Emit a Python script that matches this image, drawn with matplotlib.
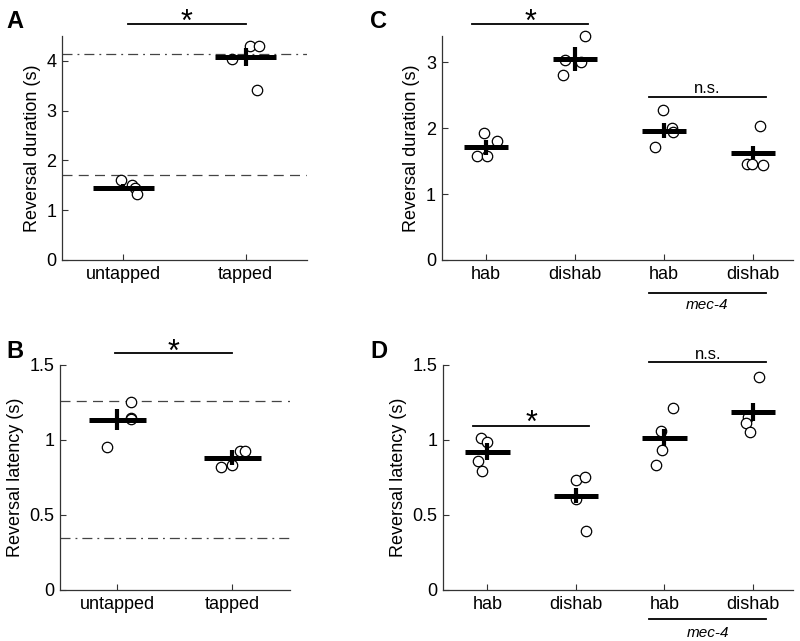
import matplotlib
matplotlib.use("Agg")
import matplotlib.pyplot as plt
import numpy as np

plt.rcParams['font.family'] = ['Liberation Sans', 'DejaVu Sans']

# ---- data ----
# panel A: reversal duration, untapped vs tapped
a_groups = ['untapped', 'tapped']
a_points = [[1.61, 1.51, 1.45, 1.32], [4.04, 4.29, 4.30, 3.42]]
a_jitter = [[-0.02, 0.07, 0.10, 0.115], [-0.115, 0.04, 0.107, 0.09]]
a_mean = [1.45, 4.08]
a_sem = [0.07, 0.18]
a_dashed = 1.71
a_dashdot = 4.13

# panel B: reversal latency, untapped vs tapped
b_groups = ['untapped', 'tapped']
b_points = [[0.955, 1.255, 1.145, 1.14], [0.818, 0.833, 0.929, 0.929]]
b_jitter = [[-0.09, 0.12, 0.12, 0.12], [-0.096, 0.0, 0.07, 0.113]]
b_mean = [1.135, 0.88]
b_sem = [0.07, 0.05]
b_dashed = 1.262
b_dashdot = 0.349

# panel C: reversal duration, hab/dishab for wild type and mec-4
c_groups = ['hab', 'dishab', 'hab', 'dishab']
c_points = [[1.925, 1.81, 1.58, 1.58], [3.04, 3.0, 3.40, 2.80],
            [2.28, 2.01, 1.94, 1.71], [2.04, 1.46, 1.46, 1.44]]
c_jitter = [[-0.02, 0.127, -0.105, 0.015], [-0.112, 0.067, 0.112, -0.13],
            [-0.011, 0.094, 0.106, -0.1], [0.082, -0.067, -0.011, 0.112]]
c_mean = [1.71, 3.05, 1.965, 1.63]
c_sem = [0.115, 0.18, 0.115, 0.10]

# panel D: reversal latency, hab/dishab for wild type and mec-4
d_groups = ['hab', 'dishab', 'hab', 'dishab']
d_points = [[1.011, 0.989, 0.862, 0.795], [0.733, 0.756, 0.607, 0.395],
            [1.062, 1.211, 0.933, 0.833], [1.418, 1.156, 1.111, 1.056]]
d_jitter = [[-0.075, -0.008, -0.106, -0.056], [0.0, 0.1, 0.0, 0.11],
            [-0.04, 0.1, -0.03, -0.094], [0.067, -0.056, -0.075, -0.03]]
d_mean = [0.922, 0.629, 1.015, 1.185]
d_sem = [0.058, 0.05, 0.055, 0.06]

FS = 13
fig = plt.figure(figsize=(8.0, 6.41), dpi=100)


def draw_panel(ax, groups, points, jitter, mean, sem, ymax, yticks, yticklabels, ylabel, xmax):
    for i, (pts, jit) in enumerate(zip(points, jitter)):
        x = i + 1
        ax.plot(x + np.array(jit), pts, 'o', mfc='white', mec='black', ms=7.5, mew=0.9,
                zorder=3, clip_on=False)
        ax.plot([x - 0.25, x + 0.25], [mean[i], mean[i]], color='black', lw=3.6,
                solid_capstyle='butt', zorder=4)
        ax.plot([x, x], [mean[i] - sem[i], mean[i] + sem[i]], color='black', lw=3,
                solid_capstyle='butt', zorder=4)
    ax.set_xlim(0.5, xmax)
    ax.set_ylim(0, ymax)
    ax.set_xticks(np.arange(1, len(groups) + 1))
    ax.set_xticklabels(groups, fontsize=FS)
    ax.set_yticks(yticks)
    ax.set_yticklabels(yticklabels, fontsize=FS)
    ax.set_ylabel(ylabel, fontsize=FS)
    for s in ['top', 'right']:
        ax.spines[s].set_visible(False)
    for s in ['left', 'bottom']:
        ax.spines[s].set_color('#333333')
        ax.spines[s].set_linewidth(0.9)
    ax.tick_params(direction='in', length=4, width=0.8, color='#333333', pad=4)


def sig(ax, x0, x1, y, ty, label, size):
    ax.plot([x0, x1], [y, y], color='black', lw=1.3, clip_on=False)
    ax.text((x0 + x1) / 2, ty, label, ha='center', va='center', fontsize=size, clip_on=False)


# A
axA = fig.add_axes([0.0775, 0.5944, 0.306, 0.3495])
draw_panel(axA, a_groups, a_points, a_jitter, a_mean, a_sem, 4.5,
           [0, 1, 2, 3, 4], ['0', '1', '2', '3', '4'], 'Reversal duration (s)', 2.5)
axA.axhline(a_dashed, color='#444444', lw=0.9, ls=(0, (8, 5)), zorder=1)
axA.axhline(a_dashdot, color='#444444', lw=0.9, ls=(0, (8, 4, 1.5, 4)), zorder=1)
sig(axA, 1.04, 2.0, 4.74, 4.77, '*', 22)

# B
axB = fig.add_axes([0.075, 0.0796, 0.287, 0.351])
draw_panel(axB, b_groups, b_points, b_jitter, b_mean, b_sem, 1.5,
           [0, 0.5, 1, 1.5], ['0', '0.5', '1', '1.5'], 'Reversal latency (s)', 2.5)
axB.axhline(b_dashed, color='#444444', lw=0.9, ls=(0, (8, 5)), zorder=1)
axB.axhline(b_dashdot, color='#444444', lw=0.9, ls=(0, (8, 4, 1.5, 4)), zorder=1)
sig(axB, 0.98, 2.0, 1.578, 1.583, '*', 22)

# C
axC = fig.add_axes([0.552, 0.5944, 0.439, 0.3495])
draw_panel(axC, c_groups, c_points, c_jitter, c_mean, c_sem, 3.4,
           [0, 1, 2, 3], ['0', '1', '2', '3'], 'Reversal duration (s)', 4.45)
sig(axC, 0.84, 2.15, 3.587, 3.605, '*', 22)
sig(axC, 2.83, 4.15, 2.47, 2.6, 'n.s.', 12)
axC.plot([2.83, 4.15], [-0.506, -0.506], color='black', lw=1.3, clip_on=False)
axC.text(3.49, -0.69, 'mec-4', ha='center', va='center', fontsize=11, style='italic')

# D
axD = fig.add_axes([0.554, 0.0796, 0.437, 0.351])
draw_panel(axD, d_groups, d_points, d_jitter, d_mean, d_sem, 1.5,
           [0, 0.5, 1, 1.5], ['0', '0.5', '1', '1.5'], 'Reversal latency (s)', 4.45)
sig(axD, 0.84, 2.15, 1.093, 1.105, '*', 22)
sig(axD, 2.83, 4.15, 1.518, 1.573, 'n.s.', 12)
axD.plot([2.83, 4.15], [-0.195, -0.195], color='black', lw=1.3, clip_on=False)
axD.text(3.49, -0.285, 'mec-4', ha='center', va='center', fontsize=11, style='italic')

# panel letters
for lab, x, y in [('A', 0.008, 0.985), ('B', 0.008, 0.47), ('C', 0.463, 0.985), ('D', 0.463, 0.47)]:
    fig.text(x, y, lab, fontsize=17, fontweight='bold', ha='left', va='top')

fig.savefig('out.png', dpi=100)
